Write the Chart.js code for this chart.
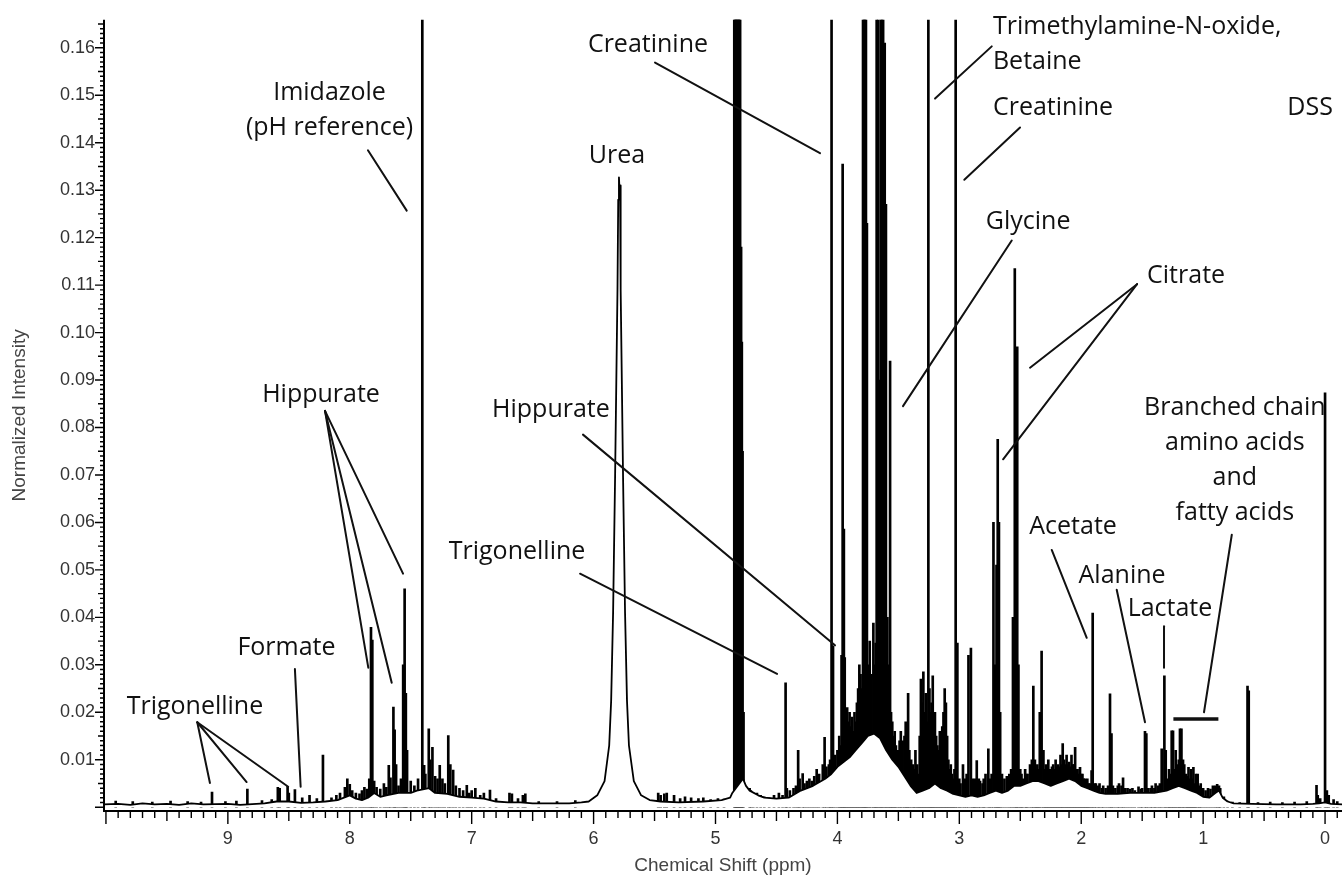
<!DOCTYPE html>
<html>
<head>
<meta charset="utf-8">
<script src="https://cdn.jsdelivr.net/npm/chart.js@4.4.1/dist/chart.umd.min.js"></script>
<style>html,body{margin:0;padding:0;background:#fff}</style>
</head>
<body>
<canvas id="nmr" width="1342" height="884"></canvas>
<script>
// tick labels
const xTicks = [0, 1, 2, 3, 4, 5, 6, 7, 8, 9];
const yTicks = [0.01, 0.02, 0.03, 0.04, 0.05, 0.06, 0.07, 0.08, 0.09, 0.10, 0.11, 0.12, 0.13, 0.14, 0.15, 0.16];

// spectrum envelope [ppm, intensity]
const baseline = [
  [10.02, 0.0006], [9.9, 0.0007], [9.8, 0.0005], [9.7, 0.0008], [9.6, 0.0006], [9.5, 0.0007], [9.4, 0.0005],
  [9.3, 0.0008], [9.2, 0.0006], [9.0, 0.0007], [8.9, 0.0005], [8.7, 0.0008], [8.6, 0.0012], [8.5, 0.0012],
  [8.4, 0.0009], [8.3, 0.0010], [8.2, 0.0012], [8.1, 0.0015], [8.0, 0.0025], [7.95, 0.0018], [7.9, 0.0015],
  [7.85, 0.0020], [7.8, 0.0030], [7.75, 0.0022], [7.7, 0.0025], [7.6, 0.0030], [7.5, 0.0030], [7.45, 0.0035],
  [7.35, 0.0040], [7.3, 0.0030], [7.2, 0.0028], [7.1, 0.0022], [7.0, 0.0020], [6.9, 0.0018], [6.8, 0.0012],
  [6.7, 0.0010], [6.6, 0.0010], [6.5, 0.0008], [6.4, 0.0008], [6.2, 0.0008], [6.1, 0.0010], [6.04, 0.0012],
  [5.97, 0.0025], [5.91, 0.0055], [5.872, 0.013], [5.856, 0.0224], [5.84, 0.041], [5.824, 0.069],
  [5.804, 0.109], [5.798, 0.128], [5.792, 0.1327], [5.787, 0.1300], [5.783, 0.1310], [5.778, 0.109],
  [5.758, 0.069], [5.742, 0.041], [5.726, 0.0224], [5.71, 0.013], [5.67, 0.0055], [5.61, 0.0025],
  [5.54, 0.0015], [5.45, 0.0012], [5.3, 0.0010], [5.1, 0.0012], [4.95, 0.0015], [4.88, 0.0020],
  [4.862, 0.0030], [4.775, 0.0060], [4.75, 0.0045], [4.72, 0.0035], [4.65, 0.0025], [4.6, 0.0020],
  [4.5, 0.0018], [4.4, 0.0020], [4.3, 0.0035], [4.2, 0.0045], [4.1, 0.0060], [4.05, 0.0070], [4.0, 0.0085],
  [3.95, 0.0095], [3.9, 0.0105], [3.85, 0.0120], [3.8, 0.0135], [3.75, 0.0150], [3.7, 0.0155], [3.65, 0.0145],
  [3.6, 0.0120], [3.55, 0.0100], [3.5, 0.0085], [3.45, 0.0065], [3.4, 0.0045], [3.35, 0.0030], [3.3, 0.0035],
  [3.25, 0.0040], [3.2, 0.0050], [3.15, 0.0040], [3.1, 0.0035], [3.05, 0.0028], [3.0, 0.0025], [2.95, 0.0022],
  [2.9, 0.0025], [2.85, 0.0022], [2.8, 0.0025], [2.75, 0.0030], [2.7, 0.0035], [2.65, 0.0030], [2.6, 0.0035],
  [2.55, 0.0045], [2.5, 0.0045], [2.45, 0.0050], [2.4, 0.0055], [2.35, 0.0055], [2.3, 0.0050], [2.25, 0.0045],
  [2.2, 0.0050], [2.15, 0.0055], [2.1, 0.0060], [2.05, 0.0055], [2.0, 0.0045], [1.95, 0.0040], [1.9, 0.0035],
  [1.85, 0.0030], [1.8, 0.0028], [1.7, 0.0028], [1.6, 0.0030], [1.5, 0.0030], [1.4, 0.0030], [1.3, 0.0035],
  [1.25, 0.0040], [1.2, 0.0045], [1.15, 0.0040], [1.1, 0.0035], [1.05, 0.0030], [1.0, 0.0022], [0.95, 0.0020],
  [0.9, 0.0030], [0.87, 0.0035], [0.84, 0.0020], [0.8, 0.0012], [0.75, 0.0008], [0.6, 0.0007], [0.4, 0.0006],
  [0.2, 0.0006], [0.1, 0.0007], [0.05, 0.0008], [0.0, 0.0010], [-0.05, 0.0007], [-0.14, 0.0006]
];

// sharp resonances [ppm, peak top]; 0.30 = runs off the top of the plot
const peaks = [
  [9.92, 0.0013], [9.78, 0.0012], [9.62, 0.0011], [9.47, 0.0013], [9.33, 0.0012], [9.22, 0.0011],
  [9.13, 0.0032], [9.02, 0.0012], [8.93, 0.0013], [8.84, 0.0038], [8.72, 0.0014], [8.64, 0.0016],
  [8.59, 0.0042], [8.575, 0.0040], [8.51, 0.0044], [8.50, 0.0030], [8.45, 0.0037], [8.39, 0.0020],
  [8.33, 0.0025], [8.27, 0.0018], [8.22, 0.0110], [8.15, 0.0020], [8.11, 0.0025], [8.08, 0.0030],
  [8.04, 0.0042], [8.02, 0.0060], [8.00, 0.0048], [7.98, 0.0035], [7.95, 0.0030], [7.92, 0.0028],
  [7.90, 0.0035], [7.88, 0.0042], [7.86, 0.0038], [7.84, 0.0060], [7.826, 0.0379], [7.815, 0.0352],
  [7.80, 0.0055], [7.78, 0.0042], [7.75, 0.0038], [7.72, 0.0050], [7.70, 0.0042], [7.68, 0.0088],
  [7.666, 0.0062], [7.642, 0.0211], [7.632, 0.0163], [7.62, 0.0090], [7.60, 0.0045], [7.58, 0.0060],
  [7.562, 0.0300], [7.550, 0.0460], [7.540, 0.0240], [7.530, 0.0120], [7.50, 0.0055], [7.47, 0.0045],
  [7.44, 0.0060], [7.405, 0.30], [7.39, 0.0088], [7.38, 0.0070], [7.352, 0.0165], [7.34, 0.0100],
  [7.322, 0.0126], [7.30, 0.0065], [7.28, 0.0060], [7.262, 0.0088], [7.24, 0.0060], [7.22, 0.0050],
  [7.192, 0.0151], [7.175, 0.0090], [7.152, 0.0078], [7.13, 0.0045], [7.10, 0.0040], [7.07, 0.0035],
  [7.04, 0.0046], [7.02, 0.0030], [7.00, 0.0035], [6.97, 0.0040], [6.93, 0.0025], [6.90, 0.0030],
  [6.85, 0.0036], [6.80, 0.0018], [6.69, 0.0030], [6.67, 0.0028], [6.62, 0.0018], [6.58, 0.0025],
  [6.56, 0.0028], [6.45, 0.0012], [6.30, 0.0012], [6.15, 0.0014],
  [5.47, 0.0030], [5.45, 0.0025], [5.42, 0.0028], [5.40, 0.0030], [5.34, 0.0025], [5.29, 0.0018],
  [5.25, 0.0022], [5.20, 0.0020], [5.14, 0.0018], [5.10, 0.0020], [5.04, 0.0016], [4.98, 0.0018], [4.93, 0.0017],
  [4.846, 0.30], [4.840, 0.30], [4.834, 0.30], [4.828, 0.30], [4.822, 0.30], [4.816, 0.30], [4.810, 0.30],
  [4.804, 0.30], [4.798, 0.30], [4.790, 0.118], [4.784, 0.098], [4.778, 0.075], [4.770, 0.020],
  [4.72, 0.0040], [4.71, 0.0035], [4.69, 0.0030], [4.66, 0.0030], [4.63, 0.0025], [4.60, 0.0022],
  [4.56, 0.0020], [4.52, 0.0025], [4.48, 0.0030], [4.45, 0.0025], [4.425, 0.0262], [4.415, 0.0040],
  [4.39, 0.0035], [4.36, 0.0040], [4.34, 0.0045], [4.322, 0.0120], [4.31, 0.0060], [4.285, 0.0071],
  [4.27, 0.0050], [4.25, 0.0055], [4.23, 0.0060], [4.21, 0.0055], [4.19, 0.0065], [4.17, 0.0080],
  [4.15, 0.0070], [4.12, 0.0090], [4.105, 0.0147], [4.09, 0.0085], [4.07, 0.0090], [4.06, 0.0100],
  [4.048, 0.30], [4.036, 0.0340], [4.02, 0.0110], [4.00, 0.0120], [3.985, 0.0150], [3.975, 0.0130],
  [3.966, 0.0320], [3.957, 0.1355], [3.947, 0.0586], [3.94, 0.0315], [3.93, 0.0200], [3.92, 0.0210],
  [3.91, 0.0180], [3.90, 0.0200], [3.89, 0.0170], [3.88, 0.0190], [3.87, 0.0160], [3.86, 0.0200],
  [3.85, 0.0180], [3.84, 0.0220], [3.83, 0.0250], [3.82, 0.0300], [3.81, 0.0280], [3.80, 0.0250],
  [3.79, 0.30], [3.782, 0.30], [3.774, 0.30], [3.766, 0.30], [3.758, 0.123], [3.745, 0.0300],
  [3.735, 0.0350], [3.72, 0.0280], [3.705, 0.0388], [3.695, 0.0300], [3.686, 0.0346], [3.678, 0.30],
  [3.666, 0.30], [3.655, 0.0900], [3.645, 0.30], [3.635, 0.30], [3.625, 0.30], [3.612, 0.161],
  [3.602, 0.127], [3.59, 0.0400], [3.58, 0.0300], [3.568, 0.0940], [3.56, 0.0200], [3.55, 0.0180],
  [3.54, 0.0150], [3.53, 0.0160], [3.52, 0.0130], [3.505, 0.0120], [3.49, 0.0140], [3.48, 0.0160],
  [3.465, 0.0140], [3.45, 0.0150], [3.44, 0.0180], [3.43, 0.0160], [3.42, 0.0240], [3.41, 0.0120],
  [3.395, 0.0100], [3.38, 0.0090], [3.37, 0.0080], [3.36, 0.0120], [3.345, 0.0090], [3.335, 0.0070],
  [3.325, 0.0150], [3.315, 0.0270], [3.305, 0.0220], [3.295, 0.0285], [3.285, 0.0200], [3.275, 0.0240],
  [3.265, 0.0180], [3.254, 0.30], [3.245, 0.0250], [3.235, 0.0200], [3.228, 0.0220], [3.218, 0.0277],
  [3.21, 0.0180], [3.20, 0.0200], [3.19, 0.0150], [3.18, 0.0130], [3.17, 0.0120], [3.16, 0.0160],
  [3.15, 0.0130], [3.14, 0.0170], [3.13, 0.0200], [3.12, 0.0250], [3.11, 0.0220], [3.10, 0.0150],
  [3.09, 0.0100], [3.08, 0.0080], [3.07, 0.0090], [3.06, 0.0070], [3.05, 0.0060], [3.04, 0.0080],
  [3.03, 0.30], [3.016, 0.0346], [3.00, 0.0060], [2.99, 0.0050], [2.97, 0.0090], [2.955, 0.0060],
  [2.94, 0.0070], [2.925, 0.0320], [2.905, 0.0335], [2.89, 0.0060], [2.88, 0.0050], [2.87, 0.0060],
  [2.857, 0.0098], [2.84, 0.0060], [2.83, 0.0055], [2.81, 0.0050], [2.80, 0.0060], [2.785, 0.0070],
  [2.762, 0.0123], [2.75, 0.0060], [2.735, 0.0070], [2.72, 0.0600], [2.705, 0.0300], [2.695, 0.0510],
  [2.685, 0.0775], [2.675, 0.0600], [2.665, 0.0200], [2.65, 0.0070], [2.63, 0.0060], [2.61, 0.0065],
  [2.59, 0.0070], [2.575, 0.0080], [2.56, 0.0400], [2.545, 0.1135], [2.535, 0.0900], [2.525, 0.0970],
  [2.515, 0.0300], [2.50, 0.0080], [2.49, 0.0070], [2.48, 0.0060], [2.46, 0.0080], [2.45, 0.0070],
  [2.44, 0.0070], [2.42, 0.0090], [2.405, 0.0100], [2.393, 0.0255], [2.38, 0.0100], [2.37, 0.0080],
  [2.36, 0.0090], [2.35, 0.0080], [2.34, 0.0200], [2.325, 0.0329], [2.31, 0.0120], [2.30, 0.0080],
  [2.29, 0.0090], [2.28, 0.0085], [2.27, 0.0100], [2.26, 0.0080], [2.25, 0.0080], [2.24, 0.0085],
  [2.23, 0.0090], [2.22, 0.0080], [2.21, 0.0100], [2.20, 0.0085], [2.19, 0.0090], [2.18, 0.0085],
  [2.17, 0.0110], [2.16, 0.0090], [2.152, 0.0134], [2.14, 0.0100], [2.13, 0.0090], [2.12, 0.0110],
  [2.11, 0.0090], [2.10, 0.0095], [2.09, 0.0085], [2.08, 0.0110], [2.07, 0.0090], [2.06, 0.0090],
  [2.05, 0.0126], [2.04, 0.0080], [2.03, 0.0080], [2.02, 0.0070], [2.01, 0.0084], [2.00, 0.0070],
  [1.99, 0.0070], [1.98, 0.0060], [1.97, 0.0060], [1.96, 0.0055], [1.95, 0.0060], [1.94, 0.0050],
  [1.93, 0.0050], [1.915, 0.0077], [1.906, 0.0409], [1.89, 0.0050], [1.88, 0.0050], [1.86, 0.0045],
  [1.85, 0.0050], [1.83, 0.0040], [1.82, 0.0045], [1.80, 0.0040], [1.78, 0.0045], [1.764, 0.0239],
  [1.752, 0.0155], [1.74, 0.0045], [1.72, 0.0040], [1.70, 0.0045], [1.69, 0.0050], [1.67, 0.0045],
  [1.657, 0.0062], [1.64, 0.0040], [1.62, 0.0040], [1.60, 0.0038], [1.58, 0.0040], [1.56, 0.0035],
  [1.53, 0.0043], [1.51, 0.0038], [1.50, 0.0040], [1.477, 0.0160], [1.466, 0.0155], [1.45, 0.0040],
  [1.43, 0.0040], [1.42, 0.0045], [1.40, 0.0040], [1.39, 0.0050], [1.37, 0.0045], [1.355, 0.0050],
  [1.34, 0.0123], [1.318, 0.0277], [1.307, 0.0120], [1.29, 0.0060], [1.28, 0.0080], [1.27, 0.0070],
  [1.258, 0.0161], [1.247, 0.0161], [1.235, 0.0080], [1.225, 0.0120], [1.21, 0.0090], [1.20, 0.0100],
  [1.19, 0.0165], [1.178, 0.0165], [1.165, 0.0100], [1.155, 0.0090], [1.14, 0.0070], [1.13, 0.0065],
  [1.12, 0.0084], [1.11, 0.0060], [1.10, 0.0080], [1.09, 0.0060], [1.08, 0.0084], [1.07, 0.0050],
  [1.06, 0.0070], [1.045, 0.0070], [1.03, 0.0045], [1.02, 0.0050], [1.00, 0.0040], [0.98, 0.0035],
  [0.96, 0.0040], [0.94, 0.0038], [0.92, 0.0045], [0.90, 0.0045], [0.885, 0.0048], [0.87, 0.0045],
  [0.86, 0.0040], [0.83, 0.0022], [0.80, 0.0013], [0.76, 0.0011], [0.70, 0.0010], [0.636, 0.0255],
  [0.626, 0.0245], [0.55, 0.0010], [0.45, 0.0011], [0.35, 0.0010], [0.25, 0.0011], [0.15, 0.0012],
  [0.07, 0.0046], [0.06, 0.0025], [0.04, 0.0018], [0.0, 0.0873], [-0.015, 0.0035], [-0.03, 0.0025],
  [-0.07, 0.0016], [-0.10, 0.0012]
];

// metabolite labels: text lines, anchor [ppm, intensity], alignment
const notes = [
  { text: ['Trigonelline'], at: [9.270, 0.0212] },
  { text: ['Formate'], at: [8.519, 0.0336] },
  { text: ['Hippurate'], at: [8.236, 0.0869] },
  { text: ['Imidazole', '(pH reference)'], at: [8.166, 0.1506] },
  { text: ['Urea'], at: [5.808, 0.1372] },
  { text: ['Creatinine'], at: [5.554, 0.1606] },
  { text: ['Hippurate'], at: [6.350, 0.0838] },
  { text: ['Trigonelline'], at: [6.628, 0.0538] },
  { text: ['Trimethylamine-N-oxide,', 'Betaine'], at: [2.724, 0.1644], align: 'left' },
  { text: ['Creatinine'], at: [2.724, 0.1474], align: 'left' },
  { text: ['DSS'], at: [0.123, 0.1474] },
  { text: ['Glycine'], at: [2.436, 0.1234] },
  { text: ['Citrate'], at: [1.140, 0.1120] },
  { text: ['Branched chain', 'amino acids', 'and', 'fatty acids'], at: [0.740, 0.0842] },
  { text: ['Acetate'], at: [2.067, 0.0591] },
  { text: ['Alanine'], at: [1.665, 0.0488] },
  { text: ['Lactate'], at: [1.272, 0.0417] }
];

// leader lines [ppm1, int1, ppm2, int2]
const leaders = [
  [9.251, 0.0179, 9.147, 0.0051], [9.251, 0.0179, 8.846, 0.0053], [9.251, 0.0179, 8.505, 0.0043],
  [8.450, 0.0291, 8.403, 0.0043],
  [8.203, 0.0835, 7.848, 0.0294], [8.203, 0.0835, 7.656, 0.0262], [8.203, 0.0835, 7.563, 0.0492],
  [7.851, 0.1384, 7.533, 0.1257],
  [5.496, 0.1569, 4.143, 0.1378],
  [6.087, 0.0785, 4.020, 0.0341],
  [6.111, 0.0492, 4.495, 0.0281],
  [2.734, 0.1603, 3.199, 0.1493],
  [2.502, 0.1432, 2.959, 0.1322],
  [2.570, 0.1194, 3.462, 0.0845],
  [1.542, 0.1102, 2.420, 0.0926], [1.542, 0.1102, 2.641, 0.0733],
  [0.765, 0.0574, 0.993, 0.0200],
  [2.242, 0.0542, 1.955, 0.0357],
  [1.709, 0.0458, 1.477, 0.0179],
  [1.321, 0.0381, 1.321, 0.0294]
];
const bcaaBar = [1.244, 0.875, 0.0186];

const decor = {
  id: 'decor',
  afterDraw(chart) {
    const { ctx, chartArea: a, scales: { x, y } } = chart;
    ctx.save();
    // axes
    ctx.strokeStyle = '#000';
    ctx.lineWidth = 2;
    ctx.beginPath();
    ctx.moveTo(a.left, a.top);
    ctx.lineTo(a.left, a.bottom);
    ctx.lineTo(a.right, a.bottom);
    ctx.stroke();
    // tick marks
    ctx.lineWidth = 1.4;
    ctx.beginPath();
    for (let k = -1; k <= 100; k++) {
      const px = x.getPixelForValue(k / 10);
      if (px < a.left || px > a.right) continue;
      const len = k % 10 === 0 ? 13 : (k % 5 === 0 ? 10 : 7);
      ctx.moveTo(px, a.bottom);
      ctx.lineTo(px, a.bottom + len);
    }
    for (let k = 0; k <= 165; k++) {
      const py = y.getPixelForValue(k / 1000);
      const len = k % 10 === 0 ? 9 : (k % 5 === 0 ? 6 : 4);
      ctx.moveTo(a.left, py);
      ctx.lineTo(a.left - len, py);
    }
    ctx.stroke();

    // axis titles
    ctx.fillStyle = '#444';
    ctx.font = '19px "Liberation Sans", Arial, sans-serif';
    ctx.textAlign = 'center';
    ctx.textBaseline = 'middle';
    ctx.fillText('Chemical Shift (ppm)', (a.left + a.right) / 2, 866);
    ctx.save();
    ctx.translate(20, (a.top + a.bottom) / 2);
    ctx.rotate(-Math.PI / 2);
    ctx.fillText('Normalized Intensity', 0, 0);
    ctx.restore();

    // leader lines
    ctx.strokeStyle = '#111';
    ctx.lineWidth = 2;
    ctx.lineCap = 'round';
    leaders.forEach(([s1, v1, s2, v2]) => {
      ctx.beginPath();
      ctx.moveTo(x.getPixelForValue(s1), y.getPixelForValue(v1));
      ctx.lineTo(x.getPixelForValue(s2), y.getPixelForValue(v2));
      ctx.stroke();
    });
    ctx.lineWidth = 3.5;
    ctx.lineCap = 'butt';
    ctx.beginPath();
    ctx.moveTo(x.getPixelForValue(bcaaBar[0]), y.getPixelForValue(bcaaBar[2]));
    ctx.lineTo(x.getPixelForValue(bcaaBar[1]), y.getPixelForValue(bcaaBar[2]));
    ctx.stroke();

    // labels
    ctx.fillStyle = '#111';
    ctx.font = '25px "Open Sans", sans-serif';
    ctx.textBaseline = 'middle';
    notes.forEach(n => {
      ctx.textAlign = n.align || 'center';
      const px = x.getPixelForValue(n.at[0]);
      const py = y.getPixelForValue(n.at[1]);
      n.text.forEach((t, i) => ctx.fillText(t, px, py + i * 35));
    });
    ctx.restore();
  }
};

new Chart(document.getElementById('nmr'), {
  type: 'bar',
  data: {
    datasets: [
      {
        type: 'line',
        data: baseline.map(([s, v]) => ({ x: s, y: v })),
        borderColor: '#000',
        borderWidth: 1.8,
        borderJoinStyle: 'round',
        pointRadius: 0,
        tension: 0,
        fill: 'origin',
        backgroundColor: '#fff',
        order: 0
      },
      {
        type: 'bar',
        data: peaks.map(([s, v]) => ({ x: s, y: v })),
        backgroundColor: '#000',
        barThickness: 2,
        grouped: false,
        order: 1
      }
    ]
  },
  options: {
    responsive: false,
    animation: false,
    devicePixelRatio: 1,
    layout: { padding: { top: 15, right: 0, left: 0, bottom: 0 } },
    plugins: { legend: { display: false }, tooltip: { enabled: false } },
    scales: {
      x: {
        type: 'linear',
        reverse: true,
        min: -0.139,
        max: 10.016,
        offset: false,
        grid: { display: false, drawTicks: false },
        border: { display: false },
        afterBuildTicks: s => { s.ticks = xTicks.map(v => ({ value: v })); },
        afterFit: s => { s.height = 73; },
        ticks: {
          padding: 17,
          color: '#333',
          autoSkip: false,
          maxRotation: 0,
          font: { family: '"Liberation Sans", Arial, sans-serif', size: 18 },
          callback: v => String(v)
        }
      },
      y: {
        min: -0.0008,
        max: 0.1659,
        grid: { display: false, drawTicks: false },
        border: { display: false },
        afterBuildTicks: s => { s.ticks = yTicks.map(v => ({ value: v })); },
        afterFit: s => { s.width = 104; },
        ticks: {
          padding: 9,
          color: '#333',
          autoSkip: false,
          font: { family: '"Liberation Sans", Arial, sans-serif', size: 18 },
          callback: v => v.toFixed(2)
        }
      }
    }
  },
  plugins: [decor]
});
</script>
</body>
</html>
